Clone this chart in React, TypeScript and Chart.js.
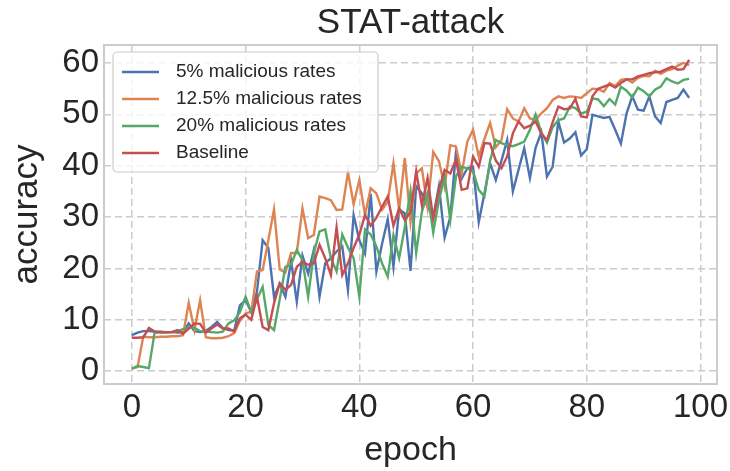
import React, { useEffect, useRef } from "react";
import { Chart, registerables } from "chart.js";

Chart.register(...registerables);

// epochs 0..98
const epochs: number[] = Array.from({ length: 99 }, (_, i) => i);

const rate5: number[] = [
  7.0, 7.5, 7.8, 7.8, 7.7, 7.7, 7.6, 7.6, 7.5, 7.6,
  9.3, 7.8, 7.6, 7.8, 8.6, 9.6, 8.4, 8.0, 7.9, 12.8,
  13.8, 11.5, 15.5, 25.5, 24.0, 14.5, 17.0, 14.5, 21.5, 13.5,
  22.5, 19.0, 23.6, 14.5, 21.0, 22.0, 23.3, 24.3, 15.8, 30.4,
  25.5, 22.9, 34.5, 19.4, 24.8, 29.6, 20.3, 31.5, 30.7, 19.5,
  36.0, 34.6, 32.0, 30.0, 36.0, 26.0, 30.0, 42.7, 37.5, 39.5,
  39.8, 29.0, 34.6, 40.5, 37.2, 41.0, 45.0, 35.0, 39.2, 43.4,
  37.6, 43.5, 46.5, 37.9, 39.8, 48.6, 44.5, 45.3, 46.5, 42.0,
  43.2, 49.9, 49.6, 49.3, 49.5, 47.0, 44.3, 50.2, 53.5, 50.9,
  50.7, 53.5, 49.6, 48.3, 52.4, 52.8, 53.2, 54.8, 53.2,
];

const rate125: number[] = [
  0.5, 0.8, 6.7, 6.6, 6.6, 6.7, 6.7, 6.8, 6.8, 7.0,
  13.3, 8.0, 13.8, 6.6, 6.4, 6.4, 6.5, 6.8, 7.4, 9.8,
  11.2, 11.6, 19.4, 19.7, 25.5, 31.5, 19.8, 19.2, 23.0, 23.0,
  31.7, 25.9, 26.5, 34.0, 33.7, 33.3, 31.4, 31.5, 38.7, 32.5,
  37.2, 30.4, 35.6, 34.6, 31.4, 33.0, 40.5, 31.4, 41.5, 29.1,
  38.5, 39.5, 32.0, 42.7, 40.9, 35.9, 44.0, 43.7, 38.5, 44.7,
  47.0, 41.8, 45.2, 48.3, 43.6, 45.0, 51.0, 49.2, 48.6, 51.2,
  49.2, 48.9, 50.2, 51.2, 52.8, 53.5, 53.2, 53.5, 53.4, 53.2,
  54.1, 55.0, 54.9, 54.4, 56.1, 55.5, 56.7, 56.9, 56.2, 57.1,
  57.5, 57.4, 58.5, 57.9, 58.5, 58.8, 59.5, 60.0, 59.6,
];

const rate20: number[] = [
  0.5, 1.0, 0.8, 0.6, 7.5, 7.5, 7.5, 7.6, 7.8, 8.2,
  8.5, 8.4, 7.8, 7.7, 7.6, 7.5, 7.7, 9.3, 9.9, 11.5,
  14.5, 11.5, 14.0, 16.4, 9.0, 8.0, 14.0, 20.3, 20.7, 23.6,
  21.6, 14.5, 23.0, 27.2, 27.6, 22.0, 19.4, 26.6, 24.1, 22.0,
  14.5, 27.6, 26.6, 24.3, 21.0, 18.4, 26.5, 22.0, 28.0, 35.0,
  23.0, 31.0, 34.6, 27.0, 33.3, 37.9, 29.4, 37.9, 39.8, 39.5,
  38.9, 35.3, 34.0, 41.0, 45.0, 44.4, 44.0, 43.8, 44.2, 44.7,
  47.0, 50.0, 46.5, 44.5, 47.5, 48.9, 49.2, 51.5, 51.2, 50.2,
  50.5, 53.1, 52.9, 51.6, 53.0, 51.9, 55.4, 54.6, 53.3, 55.2,
  54.5, 53.5, 54.8, 55.4, 57.0, 56.4, 56.0, 56.7, 56.9,
];

const baseline: number[] = [
  6.5, 6.5, 6.6, 8.4, 7.7, 7.6, 7.6, 7.6, 8.0, 7.3,
  8.3, 9.3, 9.2, 7.5, 8.3, 9.1, 8.3, 8.3, 7.7, 10.3,
  11.0, 10.0, 14.5, 8.6, 8.0, 13.2, 17.1, 15.8, 16.8, 20.3,
  21.3, 20.7, 21.0, 24.6, 22.0, 18.7, 28.0, 18.7, 21.0, 24.0,
  26.6, 30.4, 28.3, 29.9, 32.0, 34.0, 28.3, 31.7, 29.4, 31.0,
  38.9, 32.3, 37.6, 29.7, 35.3, 39.2, 38.5, 41.2, 35.3, 35.6,
  41.8, 39.8, 44.4, 44.3, 41.0, 39.5, 41.8, 46.3, 48.6, 47.3,
  47.8, 48.6, 46.2, 45.0, 48.5, 51.5, 51.0, 51.1, 53.0, 49.6,
  49.4, 53.5, 55.0, 55.4, 55.8, 55.2, 56.1, 56.8, 56.8, 57.4,
  57.7, 58.0, 58.2, 58.3, 58.8, 59.3, 58.7, 58.8, 60.6,
];

const seriesLabels: string[] = [
  "5% malicious rates",
  "12.5% malicious rates",
  "20% malicious rates",
  "Baseline",
];
const seriesColors: string[] = ["#4C72B0", "#DD8452", "#55A868", "#C44E52"];
const xTicks: number[] = [0, 20, 40, 60, 80, 100];
const yTicks: number[] = [0, 10, 20, 30, 40, 50, 60];

const FONT = "'Liberation Sans', Arial, sans-serif";
const TEXT = "#262626";
const GRID = "#cccccc";

const frameLegendPlugin = {
  id: "frameLegend",
  afterDatasetsDraw(chart: any) {
    const { ctx, chartArea: a } = chart;
    ctx.save();
    // axes frame (spines)
    ctx.strokeStyle = GRID;
    ctx.lineWidth = 2;
    ctx.strokeRect(a.left, a.top, a.right - a.left, a.bottom - a.top);
    // legend box
    const lx = a.left + 9;
    const ly = a.top + 7;
    const lw = 265;
    const lh = 120;
    ctx.beginPath();
    if (ctx.roundRect) ctx.roundRect(lx, ly, lw, lh, 4);
    else ctx.rect(lx, ly, lw, lh);
    ctx.fillStyle = "rgba(255,255,255,0.8)";
    ctx.fill();
    ctx.lineWidth = 1.2;
    ctx.strokeStyle = GRID;
    ctx.stroke();
    ctx.font = `19px ${FONT}`;
    ctx.textBaseline = "middle";
    ctx.textAlign = "left";
    chart.data.datasets.forEach((ds: any, i: number) => {
      const y = ly + 20 + i * 27;
      ctx.strokeStyle = ds.borderColor;
      ctx.lineWidth = 2.4;
      ctx.beginPath();
      ctx.moveTo(lx + 9, y);
      ctx.lineTo(lx + 46, y);
      ctx.stroke();
      ctx.fillStyle = TEXT;
      ctx.fillText(ds.label, lx + 63, y);
    });
    ctx.restore();
  },
};

export default function App() {
  const canvasRef = useRef<HTMLCanvasElement | null>(null);

  useEffect(() => {
    if (!canvasRef.current) return;
    const series = [rate5, rate125, rate20, baseline];
    const chart = new Chart(canvasRef.current, {
      type: "line",
      data: {
        datasets: series.map((vals, i) => ({
          label: seriesLabels[i],
          data: vals.map((v, j) => ({ x: epochs[j], y: v })),
          borderColor: seriesColors[i],
          backgroundColor: seriesColors[i],
          borderWidth: 2.4,
          pointRadius: 0,
          pointHoverRadius: 0,
          fill: false,
          tension: 0,
          order: 4 - i,
        })),
      },
      options: {
        animation: false,
        responsive: false,
        devicePixelRatio: 1,
        layout: { padding: { left: 0, right: 13, top: 0, bottom: 0 } },
        plugins: {
          legend: { display: false },
          tooltip: { enabled: false },
          title: {
            display: true,
            text: "STAT-attack",
            color: TEXT,
            fullSize: false,
            font: { family: FONT, size: 35, weight: "normal" },
            padding: { top: 2, bottom: 1 },
          },
        },
        scales: {
          x: {
            type: "linear",
            min: -4.9,
            max: 102.9,
            afterBuildTicks: (s: any) => {
              s.ticks = xTicks.map((v) => ({ value: v }));
            },
            afterFit: (s: any) => {
              s.height = 87;
              s.paddingLeft = 0;
              s.paddingRight = 0;
            },
            grid: { color: GRID, lineWidth: 1.5, drawTicks: false },
            border: { display: false, dash: [7, 4] },
            ticks: {
              color: TEXT,
              font: { family: FONT, size: 33 },
              padding: 4,
              maxRotation: 0,
              autoSkip: false,
              callback: (v: any) => String(v),
            },
            title: {
              display: true,
              text: "epoch",
              color: TEXT,
              font: { family: FONT, size: 34 },
              padding: { top: 0, bottom: 0 },
            },
          },
          y: {
            type: "linear",
            min: -2.5,
            max: 63.5,
            afterBuildTicks: (s: any) => {
              s.ticks = yTicks.map((v) => ({ value: v }));
            },
            afterFit: (s: any) => {
              s.width = 104;
              s.paddingTop = 0;
              s.paddingBottom = 0;
            },
            grid: { color: GRID, lineWidth: 1.5, drawTicks: false },
            border: { display: false, dash: [7, 4] },
            ticks: {
              color: TEXT,
              font: { family: FONT, size: 33 },
              padding: 5,
              autoSkip: false,
              callback: (v: any) => String(v),
            },
            title: {
              display: true,
              text: "accuracy",
              color: TEXT,
              font: { family: FONT, size: 35 },
              padding: { top: 6, bottom: 0 },
            },
          },
        },
      },
      plugins: [frameLegendPlugin],
    } as any);
    return () => chart.destroy();
  }, []);

  return (
    <div
      style={{
        position: "fixed",
        left: 0,
        top: 0,
        width: 730,
        height: 471,
        background: "#ffffff",
      }}
    >
      <canvas
        ref={canvasRef}
        width={730}
        height={471}
        style={{ display: "block", width: 730, height: 471 }}
      />
    </div>
  );
}
